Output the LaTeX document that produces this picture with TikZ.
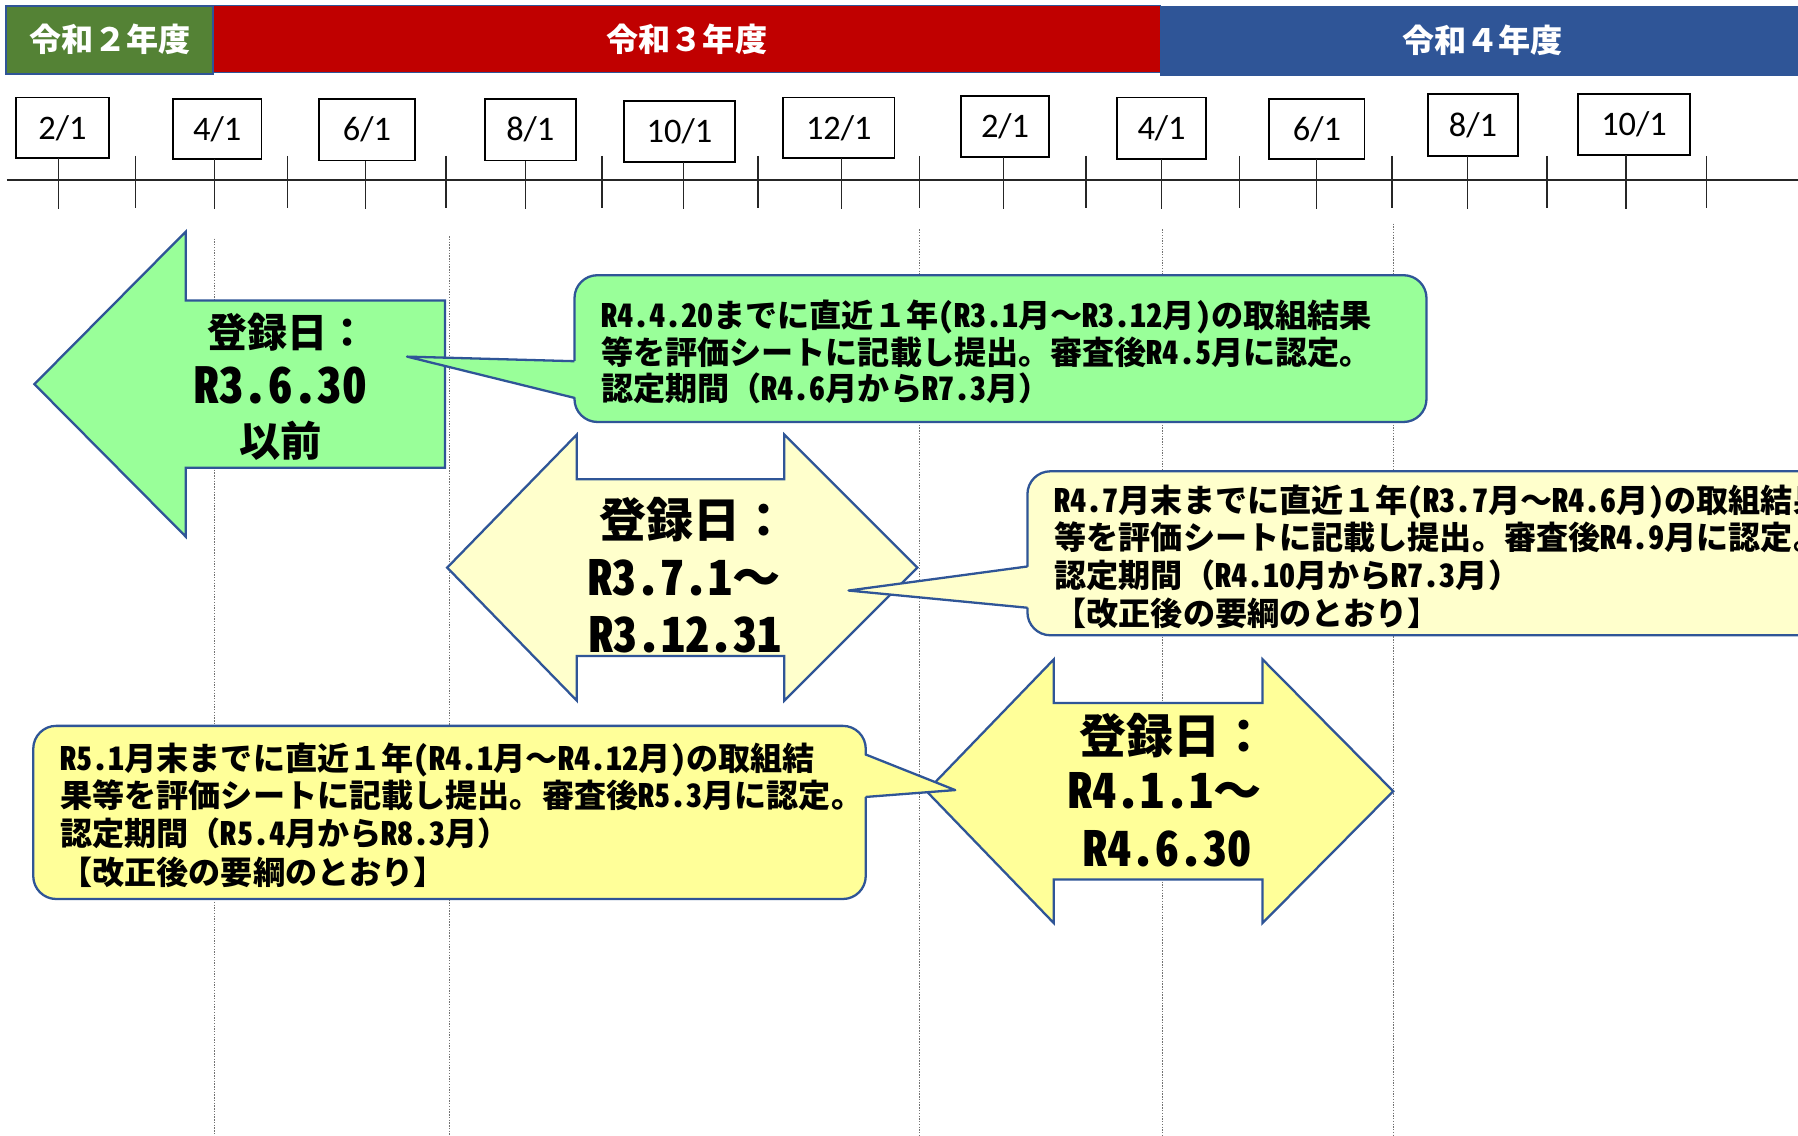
\documentclass[tikz,border=0pt]{standalone}
\usepackage{fontspec}
\newfontfamily\jpfont{Noto Sans CJK JP}
\newfontfamily\jphfont{Noto Sans CJK JP}[RawFeature=+hwid]
\newfontfamily\datefont{Carlito}
\newcommand\hwtext[1]{{\jphfont #1}}
\definecolor{hdgreen}{HTML}{548235}
\definecolor{hdred}{HTML}{C00000}
\definecolor{hdblue}{HTML}{2F5597}
\definecolor{edgeblue}{HTML}{2F5597}
\definecolor{lgreen}{HTML}{99FF99}
\definecolor{lyellow}{HTML}{FFFFCC}
\definecolor{myellow}{HTML}{FFFF99}
\tikzset{
  guide/.style={draw=black!55, line width=0.9pt, dash pattern=on 1.2pt off 1.2pt},
  datebox/.style={draw=black, line width=1.6pt, fill=white, inner sep=0pt, font=\datefont\fontsize{30}{36}\selectfont},
  axisline/.style={draw=black!85, line width=1.3pt},
  tickline/.style={draw=black!85, line width=1.1pt},
  shapeline/.style={draw=edgeblue, line width=2pt, line join=miter},
  ptrline/.style={draw=edgeblue, line width=2pt, line join=round},
  hdtext/.style={text=white, font=\jpfont\bfseries\fontsize{28}{34}\selectfont, inner sep=0pt},
  ctext/.style={anchor=base west, inner sep=0pt, font=\jpfont\bfseries\fontsize{28}{34}\selectfont},
  atext/.style={anchor=base, inner sep=0pt},
}
\begin{document}
\begin{tikzpicture}[x=1pt,y=-1pt]
\useasboundingbox (0,0) rectangle (1568,990);
\clip (0,0) rectangle (1568,990);
\fill[white] (0,0) rectangle (1568,990);

% dotted guide lines
\foreach \x/\t in {187/208,392/206,802/200,1014/200,1215/195}
  \draw[guide] (\x,\t) -- (\x,992);

% header
\draw[fill=hdred, draw=hdblue, line width=1.2pt] (186,5) rectangle (1012,63);
\draw[fill=hdblue, draw=hdblue, line width=1.2pt] (1012,6) rectangle (1600,65.5);
\draw[fill=hdgreen, draw=hdblue, line width=1.6pt] (5.5,5.5) rectangle (186,64.5);
\node[hdtext] (h2) at (96,34) {令和２年度};
\node[hdtext] (h3) at (599,34) {令和３年度};
\node[hdtext] (h4) at (1293,35) {令和４年度};

% time axis
\draw[axisline] (6,157) -- (1568,157);
\foreach \x in {118,251,389,525,661,802,947,1081,1214,1349,1488}
  \draw[tickline] (\x,136) -- (\x,181);
\foreach [count=\i] \lab/\cx/\cy/\w/\h/\tx in {%
  {2/1}/54.5/111.5/81/53/51, {4/1}/189.5/112.5/77/53/187, {6/1}/320/113/84/54/319,
  {8/1}/462.5/113/79/54/458, {10/1}/592.5/114.5/97/53/596, {12/1}/731.5/111.5/97/53/734,
  {2/1}/876.5/110.5/77/53/875, {4/1}/1013/112/78/54/1013, {6/1}/1148.5/112.5/83/53/1148,
  {8/1}/1284.5/109/79/54/1280, {10/1}/1425/108.5/98/53/1418}{
  \node[datebox, minimum width=\w pt, minimum height=\h pt] (d\i) at (\cx,\cy) {\lab};
  \draw[tickline] (\tx,{\cy+\h/2}) -- (\tx,182);
}

% green left arrow
\draw[shapeline, fill=lgreen] (30,335) -- (162,202) -- (162,262) -- (388,262) -- (388,408) -- (162,408) -- (162,468) -- cycle;
\node[atext, font=\jpfont\bfseries\fontsize{35}{40}\selectfont] (g1) at (251,303.3) {登録日：};
\node[atext, font=\jphfont\bfseries\fontsize{43}{48}\selectfont] (g2) at (245,352) {R3.6.30};
\node[atext, font=\jpfont\bfseries\fontsize{36}{40}\selectfont] (g3) at (245,398) {以前};

% green callout
\draw[shapeline, fill=lgreen, rounded corners=20pt] (501,240) rectangle (1244,368);
\fill[lgreen] (504,315) -- (355,311) -- (504,347) -- cycle;
\draw[ptrline] (501,315) -- (355,311) -- (501,347);
\node[ctext] (c1a) at (524,285.6) {\hwtext{R4.4.20}までに直近１年\hwtext{(R3.1}月～\hwtext{R3.12}月\hwtext{)}の取組結果};
\node[ctext] (c1b) at (524,318.1) {等を評価シートに記載し提出。審査後\hwtext{R4.5}月に認定。};
\node[ctext] (c1c) at (524,349.6) {認定期間（\hwtext{R4.6}月から\hwtext{R7.3}月）};

% yellow double arrow 1
\draw[shapeline, fill=lyellow] (390,495) -- (503,379) -- (503,418) -- (684,418) -- (684,379) -- (800,495) -- (684,611) -- (684,572) -- (503,572) -- (503,611) -- cycle;
\node[atext, font=\jpfont\bfseries\fontsize{41}{46}\selectfont] (y1a) at (605,469) {登録日：};
\node[atext, font=\jpfont\bfseries\fontsize{42}{46}\selectfont] (y1b) at (597,519) {\hwtext{R3.7.1}～};
\node[atext, font=\jphfont\bfseries\fontsize{42}{46}\selectfont] (y1c) at (598,569) {R3.12.31};

% yellow callout 2
\draw[shapeline, fill=lyellow, rounded corners=20pt] (896,411) rectangle (1620,554);
\fill[lyellow] (899,494) -- (740,515) -- (899,530) -- cycle;
\draw[ptrline] (896,494) -- (740,515) -- (896,530);
\node[ctext] (c2a) at (919.5,446.6) {\hwtext{R4.7}月末までに直近１年\hwtext{(R3.7}月～\hwtext{R4.6}月\hwtext{)}の取組結果};
\node[ctext] (c2b) at (919.5,479.6) {等を評価シートに記載し提出。審査後\hwtext{R4.9}月に認定。};
\node[ctext] (c2c) at (919.5,512.6) {認定期間（\hwtext{R4.10}月から\hwtext{R7.3}月）};
\node[ctext] (c2d) at (919.5,545.6) {【改正後の要綱のとおり】};

% yellow double arrow 2
\draw[shapeline, fill=myellow] (808,690) -- (919,575) -- (919,613) -- (1101,613) -- (1101,575) -- (1215,690) -- (1101,805) -- (1101,767) -- (919,767) -- (919,805) -- cycle;
\node[atext, font=\jpfont\bfseries\fontsize{41}{46}\selectfont] (y2a) at (1023.5,657) {登録日：};
\node[atext, font=\jpfont\bfseries\fontsize{42}{46}\selectfont] (y2b) at (1016,705.4) {\hwtext{R4.1.1}～};
\node[atext, font=\jphfont\bfseries\fontsize{42}{46}\selectfont] (y2c) at (1018,755.4) {R4.6.30};

% yellow callout 3
\draw[shapeline, fill=myellow, rounded corners=20pt] (29,633) rectangle (755,784);
\fill[myellow] (752,658) -- (833,689) -- (752,695) -- cycle;
\draw[ptrline] (755,658) -- (833,689) -- (755,695);
\node[ctext] (c3a) at (52.5,671.6) {\hwtext{R5.1}月末までに直近１年\hwtext{(R4.1}月～\hwtext{R4.12}月\hwtext{)}の取組結};
\node[ctext] (c3b) at (52.5,704.6) {果等を評価シートに記載し提出。審査後\hwtext{R5.3}月に認定。};
\node[ctext] (c3c) at (52.5,737.6) {認定期間（\hwtext{R5.4}月から\hwtext{R8.3}月）};
\node[ctext] (c3d) at (52.5,771.6) {【改正後の要綱のとおり】};
\end{tikzpicture}
\end{document}
